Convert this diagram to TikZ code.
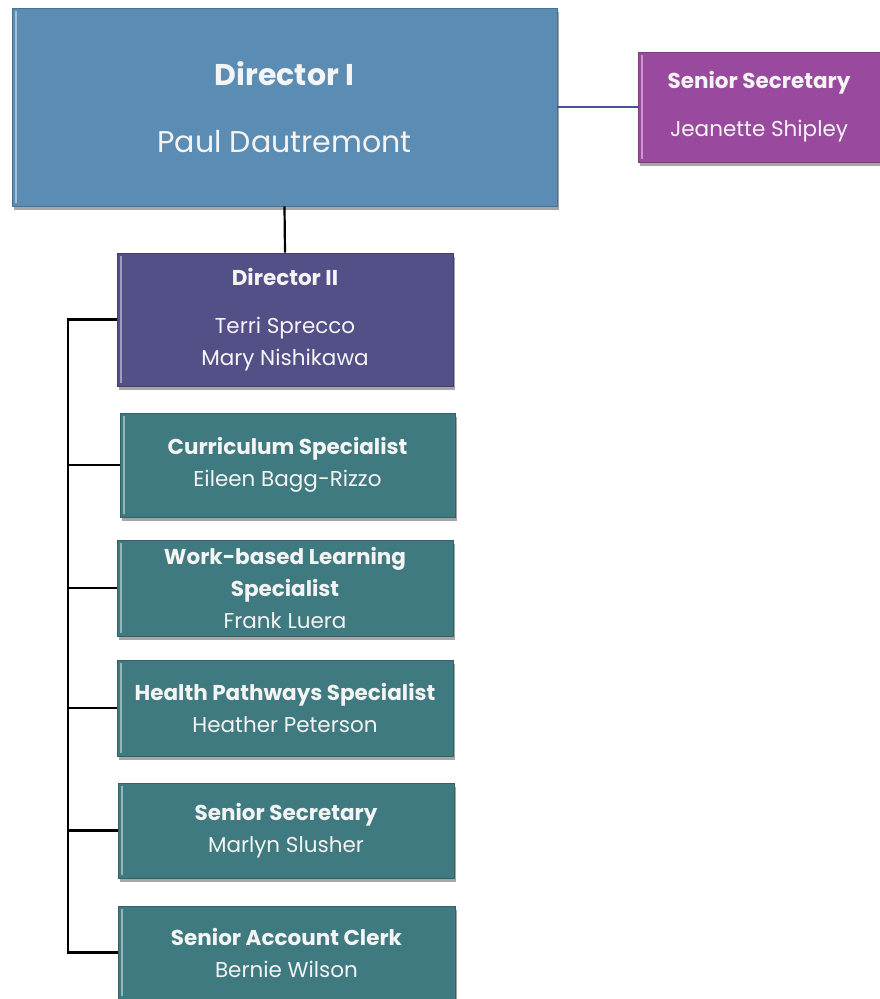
\documentclass[tikz,border=0pt]{standalone}
\usepackage{fontspec}
\setmainfont{Poppins}
\usetikzlibrary{shadows}
\definecolor{dirone}{HTML}{5B8DB4}
\definecolor{secpurple}{HTML}{9A4A9E}
\definecolor{dirtwo}{HTML}{534F87}
\definecolor{tealbox}{HTML}{3E7A7F}
\definecolor{txt}{HTML}{F4F4F4}
\definecolor{linkblue}{HTML}{4A5290}
\tikzset{
  orgbox/.style={rectangle, inner sep=0pt, text=txt, align=center,
    draw=#1!80!black, line width=0.6pt, fill=#1,
    drop shadow={shadow xshift=1.5pt, shadow yshift=-3.5pt, opacity=0.35, fill=black},
    path picture={\fill[white,opacity=0.45]
      ([xshift=2.5pt,yshift=3pt]path picture bounding box.south west) rectangle
      ([xshift=5pt,yshift=-3pt]path picture bounding box.north west);}},
  bigtxt/.style={font=\fontsize{30}{36}\selectfont},
  midtxt/.style={font=\fontsize{21.5}{32}\selectfont},
  tree/.style={draw=black, line width=2.2pt},
}
\begin{document}
\begin{tikzpicture}[x=1pt,y=-1pt]
\useasboundingbox (0,0) rectangle (879,999);
\node[orgbox=dirone, bigtxt, minimum width=545pt, minimum height=198pt] (d1) at (284.5,107)
  {\textbf{Director I}\\[31pt]Paul Dautremont};
\node[orgbox=secpurple, midtxt, minimum width=242pt, minimum height=110pt] (s1) at (759,107)
  {\textbf{Senior Secretary}\\[16pt]Jeanette Shipley};
\node[orgbox=dirtwo, midtxt, minimum width=336pt, minimum height=133pt] (d2) at (285,319.5)
  {\textbf{Director II}\\[16pt]Terri Sprecco\\Mary Nishikawa};
\node[orgbox=tealbox, midtxt, minimum width=335pt, minimum height=104pt] (cs) at (287.5,465)
  {\textbf{Curriculum Specialist}\\Eileen Bagg-Rizzo};
\node[orgbox=tealbox, midtxt, minimum width=336pt, minimum height=96pt] (wb) at (285,588)
  {\textbf{Work-based Learning}\\\textbf{Specialist}\\Frank Luera};
\node[orgbox=tealbox, midtxt, minimum width=336pt, minimum height=96pt] (hp) at (285,708)
  {\textbf{Health Pathways Specialist}\\Heather Peterson};
\node[orgbox=tealbox, midtxt, minimum width=336pt, minimum height=95pt] (ss) at (286,830.5)
  {\textbf{Senior Secretary}\\Marlyn Slusher};
\node[orgbox=tealbox, midtxt, minimum width=337pt, minimum height=93pt] (ac) at (286.5,952.5)
  {\textbf{Senior Account Clerk}\\Bernie Wilson};
\coordinate (sp) at (68,0);
\draw[draw=linkblue, line width=1.4pt] (d1.east) -- (s1.west);
\draw[tree] (d1.south) -- (d2.north);
\draw[tree] (d2.west) -- (d2.west -| sp) -- (ac.west -| sp) -- (ac.west);
\draw[tree] (cs.west) -- (cs.west -| sp);
\draw[tree] (wb.west) -- (wb.west -| sp);
\draw[tree] (hp.west) -- (hp.west -| sp);
\draw[tree] (ss.west) -- (ss.west -| sp);
\end{tikzpicture}
\end{document}
